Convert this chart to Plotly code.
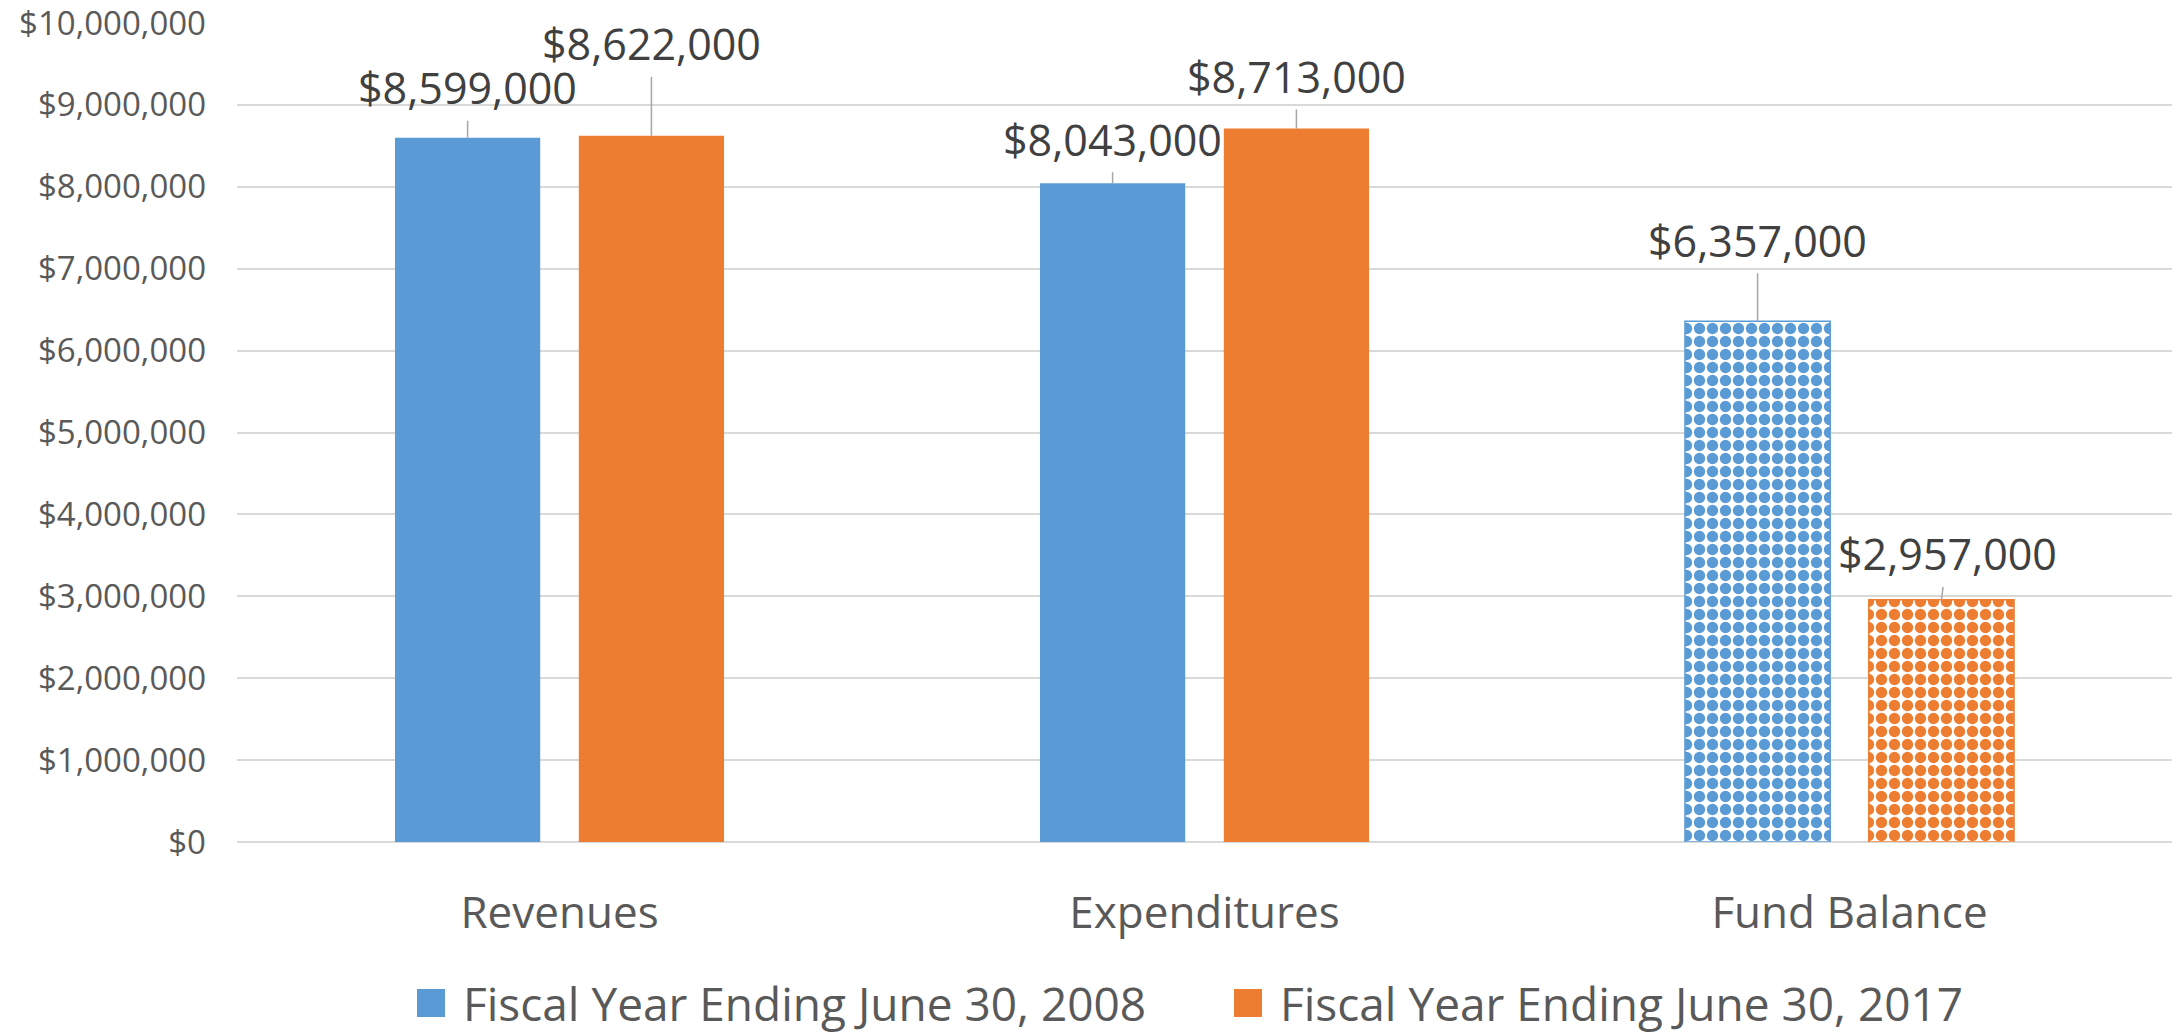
import plotly.graph_objects as go

# Categories and series values (US dollars)
categories = ["Revenues", "Expenditures", "Fund Balance"]
series_names = ["Fiscal Year Ending June 30, 2008", "Fiscal Year Ending June 30, 2017"]
fy2008 = [8599000, 8043000, 6357000]
fy2017 = [8622000, 8713000, 2957000]
y_tick_values = [0, 1000000, 2000000, 3000000, 4000000, 5000000,
                 6000000, 7000000, 8000000, 9000000, 10000000]
y_tick_labels = ["$0", "$1,000,000", "$2,000,000", "$3,000,000", "$4,000,000",
                 "$5,000,000", "$6,000,000", "$7,000,000", "$8,000,000",
                 "$9,000,000", "$10,000,000"]

colors = ["#5B9BD5", "#ED7D31"]
font_family = "Open Sans"
bar_gap = 0.43
bar_group_gap = 0.21

W, H = 2179, 1036
M_L, M_R, M_T, M_B = 237, 7, 23, 194
plot_w = W - M_L - M_R
plot_h = H - M_T - M_B

# Pixel offsets of each value label from the top of its bar (dx, dy)
label_offsets = [
    [(0, -50), (0, -44), (0, -81)],
    [(0, -92), (0, -52), (6, -46)],
]

fig = go.Figure()
for i, (name, vals) in enumerate(zip(series_names, [fy2008, fy2017])):
    # the fund-balance bar is drawn with a dotted fill
    shapes = ["", "", "."]
    fig.add_trace(go.Bar(
        x=categories, y=vals, name=name, showlegend=False,
        marker=dict(
            color=colors[i],
            line=dict(color=["rgba(0,0,0,0)", "rgba(0,0,0,0)", colors[i]],
                      width=[0, 0, 1.5]),
            pattern=dict(shape=shapes, fillmode="replace", fgcolor=colors[i],
                         bgcolor="white", size=13, solidity=0.6),
        ),
        hoverinfo="skip",
    ))

# value labels with leader lines
half_slot = (1 - bar_gap) / 4
annotations = []
for i, vals in enumerate([fy2008, fy2017]):
    shift = -half_slot if i == 0 else half_slot
    for j, v in enumerate(vals):
        dx, dy = label_offsets[i][j]
        annotations.append(dict(
            x=j + shift, y=v, xref="x", yref="y",
            text="${:,}".format(v),
            showarrow=True, arrowhead=0, arrowwidth=1.5, arrowcolor="#a6a6a6",
            ax=dx, ay=dy, standoff=0, borderpad=3,
            font=dict(family=font_family, size=43, color="#404040"),
        ))

# legend below the axis: large square swatches followed by the series name
legend_left_px = [417, 1234]
swatch_px = 28
legend_center_px = 1003
shapes_list = []
for i, name in enumerate(series_names):
    x0 = (legend_left_px[i] - M_L) / plot_w
    x1 = (legend_left_px[i] + swatch_px - M_L) / plot_w
    yc = (H - M_B - legend_center_px) / plot_h
    half = swatch_px / 2 / plot_h
    shapes_list.append(dict(
        type="rect", xref="paper", yref="paper",
        x0=x0, x1=x1, y0=yc - half, y1=yc + half,
        fillcolor=colors[i], line=dict(width=0),
    ))
    annotations.append(dict(
        x=(legend_left_px[i] + swatch_px + 16 - M_L) / plot_w, y=yc,
        xref="paper", yref="paper", xanchor="left", yanchor="middle",
        text=name, showarrow=False,
        font=dict(family=font_family, size=46, color="#595959"),
    ))

fig.update_layout(
    width=W, height=H,
    margin=dict(l=M_L, r=M_R, t=M_T, b=M_B, autoexpand=False),
    paper_bgcolor="white", plot_bgcolor="white",
    barmode="group", bargap=bar_gap, bargroupgap=bar_group_gap,
    annotations=annotations, shapes=shapes_list,
    showlegend=False,
    font=dict(family=font_family, color="#595959"),
    xaxis=dict(
        showgrid=False, showline=False, zeroline=False, automargin=False,
        ticks="", ticklabelstandoff=41,
        tickfont=dict(family=font_family, size=44, color="#595959"),
    ),
    yaxis=dict(
        range=[0, 10000000], tickvals=y_tick_values, ticktext=y_tick_labels,
        showgrid=True, gridcolor="#d9d9d9", gridwidth=1.5,
        zeroline=True, zerolinecolor="#d9d9d9", zerolinewidth=1.5,
        showline=False, ticks="", ticklabelstandoff=30, automargin=False,
        ticklabeloverflow="allow",
        tickfont=dict(family=font_family, size=33, color="#595959"),
    ),
)

fig.write_html("out.html")
